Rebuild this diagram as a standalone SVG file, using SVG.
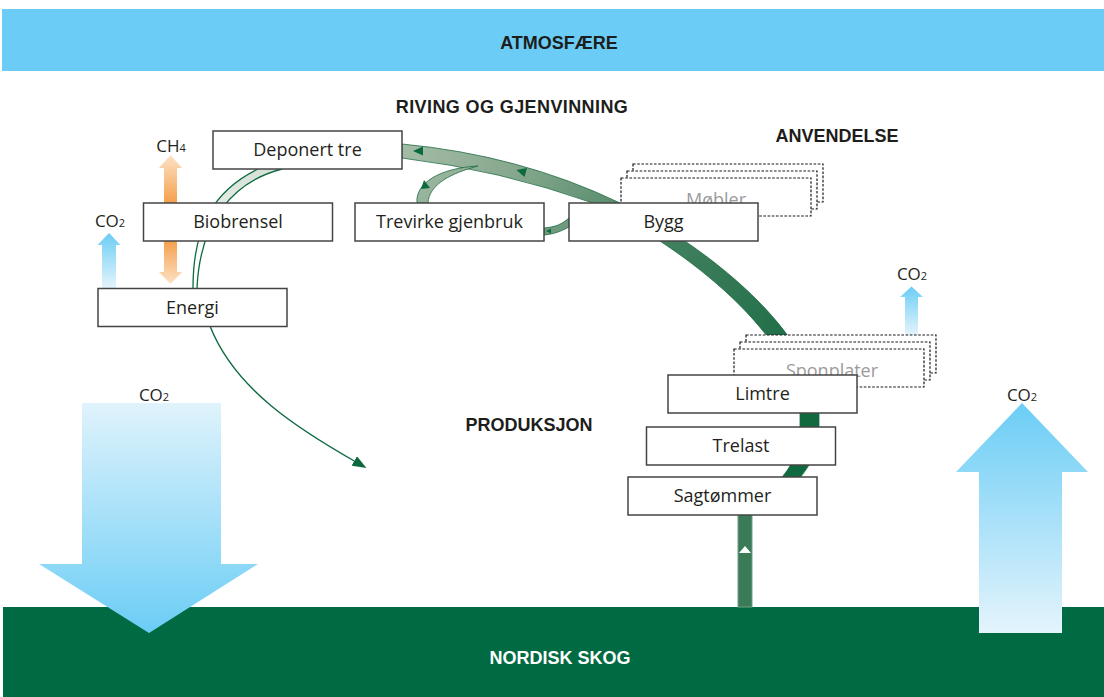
<svg xmlns="http://www.w3.org/2000/svg" width="1104" height="697" viewBox="0 0 1104 697">
  <style>
    .box { fill: #ffffff; stroke: #444444; stroke-width: 1.5; }
    .stack { fill: #ffffff; stroke: #1a1a1a; stroke-width: 1.2; stroke-dasharray: 2.6 1.6; }
    .lbl { font-family: "Open Sans", "Noto Sans", sans-serif; font-size: 18px; fill: #231F20; text-anchor: middle; }
    .ghost { font-family: "Open Sans", "Noto Sans", sans-serif; font-size: 18px; fill: #9B9B9B; text-anchor: middle; }
    .head { font-family: "Liberation Sans", Arial, sans-serif; font-size: 18px; font-weight: bold; fill: #1D1D1B; text-anchor: middle; }
    .band-edge { fill: none; stroke: #0C6B40; stroke-width: 1.3; }
    .chem { font-family: "Open Sans", "Noto Sans", sans-serif; font-size: 17px; fill: #231F20; text-anchor: middle; }
    .sub { font-size: 11px; }
    .tri { fill: #0A6A3D; }
  </style>
  <defs>
    <linearGradient id="gBand" gradientUnits="userSpaceOnUse" x1="400" y1="150" x2="800" y2="400">
      <stop offset="0" stop-color="#A5BCA6"/>
      <stop offset="0.24" stop-color="#84A78C"/>
      <stop offset="0.42" stop-color="#5F9172"/>
      <stop offset="0.61" stop-color="#3F7F5D"/>
      <stop offset="0.9" stop-color="#226F4A"/>
      <stop offset="1" stop-color="#10693F"/>
    </linearGradient>
    <linearGradient id="gThin" gradientUnits="userSpaceOnUse" x1="0" y1="169" x2="0" y2="260">
      <stop offset="0" stop-color="#D5E0D6"/>
      <stop offset="1" stop-color="#FFFFFF"/>
    </linearGradient>
    <linearGradient id="gBlueUp" x1="0" y1="0" x2="0" y2="1">
      <stop offset="0" stop-color="#6BCDF5"/>
      <stop offset="1" stop-color="#E4F4FC"/>
    </linearGradient>
    <linearGradient id="gBlueDown" x1="0" y1="0" x2="0" y2="1">
      <stop offset="0" stop-color="#E0F3FC"/>
      <stop offset="1" stop-color="#6BCDF5"/>
    </linearGradient>
    <linearGradient id="gOrangeUp" x1="0" y1="0" x2="0" y2="1">
      <stop offset="0" stop-color="#FCE2C6"/>
      <stop offset="1" stop-color="#F5A04C"/>
    </linearGradient>
    <linearGradient id="gOrangeDown" x1="0" y1="0" x2="0" y2="1">
      <stop offset="0" stop-color="#F5A04C"/>
      <stop offset="1" stop-color="#FCE2C6"/>
    </linearGradient>
    <marker id="arrowGreen" viewBox="0 0 14 11" refX="2" refY="5.5" markerWidth="14" markerHeight="11" markerUnits="userSpaceOnUse" orient="auto">
      <path d="M0,0 L14,5.5 L0,11 Z" fill="#0A6A3D"/>
    </marker>
  </defs>

  <!-- Atmosphere band -->
  <g id="atmosfaere">
    <rect x="2" y="9" width="1102" height="62" fill="#6BCDF5"/>
    <text class="head" x="559" y="49">ATMOSFÆRE</text>
  </g>

  <!-- Forest band -->
  <g id="nordisk-skog">
    <rect x="3" y="607" width="1101" height="90" fill="#006A42"/>
    <text class="head" x="560" y="664" style="fill:#ffffff">NORDISK SKOG</text>
  </g>

  <!-- Big CO2 arrows -->
  <g id="co2-opptak">
    <polygon points="82,403 221,403 221,564 258,564 149,633 39,564 82,564" fill="url(#gBlueDown)"/>
    <text class="chem" x="154" y="401">CO<tspan class="sub">2</tspan></text>
  </g>
  <g id="co2-utslipp-skog">
    <polygon points="1022,403 1088,472 1062,472 1062,633 979,633 979,472 956,472" fill="url(#gBlueUp)"/>
    <text class="chem" x="1022" y="401">CO<tspan class="sub">2</tspan></text>
  </g>

  <!-- Section labels -->
  <g id="labels">
    <text class="head" x="512" y="113" letter-spacing="0.4">RIVING OG GJENVINNING</text>
    <text class="head" x="837" y="142">ANVENDELSE</text>
    <text class="head" x="529" y="431">PRODUKSJON</text>
  </g>

  <!-- Connectors -->
  <g id="connectors">
    <!-- main life-cycle band -->
    <path d="M 402,144 Q 520,155 620,203 C 690,237 815,325 819,413 L 819,430 C 819,448 815,458 800,478 L 790,500 L 775,500 L 783,476 C 797,458 800,445 800,430 L 800,413 C 796,330 672,240 593,203 Q 500,170 402,158 Z" fill="url(#gBand)" stroke="#1E6B45" stroke-width="0.8"/>
    <!-- branch towards Trevirke gjenbruk -->
    <path d="M 417,203 C 415,183 440,168 478,166 C 452,173 429,184 428,203 Z" fill="url(#gBand)" stroke="#1E6B45" stroke-width="0.8"/>
    <!-- Bygg to Trevirke gjenbruk -->
    <path d="M 569,218 C 562,224 556,227 544,228 L 544,235 C 556,234 563,230 569,227 Z" fill="#6E9A7D" stroke="#1E6B45" stroke-width="0.8"/>
    <!-- flow triangles -->
    <polygon class="tri" points="413,151 423,146.5 423,155.5"/>
    <polygon class="tri" points="516.5,170 527,168 524.5,177"/>
    <polygon class="tri" points="424,180 421,189 430,188"/>
    <polygon class="tri" points="546,231 551,228.8 551,233.4"/>
    <!-- stem from forest to Sagtømmer -->
    <rect x="738" y="505" width="14" height="102" fill="#3B7B58" stroke="#6F9F83" stroke-width="1"/>
    <polygon points="745,546 739,553 751,553" fill="#ffffff"/>
    <!-- thin band Deponert tre -> Energi -->
    <path d="M 258,169 C 215,190 193,225 193,288 L 197,288 C 200,222 232,182 282,169 Z" fill="url(#gThin)"/>
    <path class="band-edge" d="M 258,169 C 215,190 193,225 193,288"/>
    <path class="band-edge" d="M 282,169 C 232,182 200,222 197,288"/>
    <!-- Energi -> out -->
    <path d="M 210,326 C 235,390 300,430 356,462" fill="none" stroke="#0C6B40" stroke-width="1.4" marker-end="url(#arrowGreen)"/>
  </g>

  <!-- Small gas arrows -->
  <g id="ch4-pil">
    <polygon points="164,203 164,168 159,168 170.5,155 182,168 177,168 177,203" fill="url(#gOrangeUp)"/>
    <polygon points="164,241 164,272 159,272 170.5,284 182,272 177,272 177,241" fill="url(#gOrangeDown)"/>
    <text class="chem" x="171" y="152">CH<tspan class="sub">4</tspan></text>
  </g>
  <g id="co2-energi">
    <polygon points="102,288 102,245 97.5,245 109,233 120.5,245 116,245 116,288" fill="url(#gBlueUp)"/>
    <text class="chem" x="110" y="227">CO<tspan class="sub">2</tspan></text>
  </g>
  <g id="co2-sponplater">
    <polygon points="905,335 905,297 900,297 911.5,286.5 923,297 918,297 918,335" fill="url(#gBlueUp)"/>
    <text class="chem" x="912" y="280">CO<tspan class="sub">2</tspan></text>
  </g>

  <!-- Stacked (dashed) nodes -->
  <g id="mobler">
    <rect class="stack" x="633" y="164" width="190" height="38"/>
    <rect class="stack" x="627" y="171" width="190" height="38"/>
    <rect class="stack" x="621" y="178" width="190" height="38"/>
    <text class="ghost" x="716" y="206">Møbler</text>
  </g>
  <g id="sponplater">
    <rect class="stack" x="746" y="335" width="190" height="38"/>
    <rect class="stack" x="740" y="342" width="190" height="38"/>
    <rect class="stack" x="734" y="349" width="190" height="38"/>
    <text class="ghost" x="832" y="377">Sponplater</text>
  </g>

  <!-- Nodes -->
  <g id="deponert-tre">
    <rect class="box" x="213" y="131" width="189" height="38"/>
    <text class="lbl" x="307.5" y="156">Deponert tre</text>
  </g>
  <g id="biobrensel">
    <rect class="box" x="143.5" y="203" width="189" height="38"/>
    <text class="lbl" x="238" y="228">Biobrensel</text>
  </g>
  <g id="energi">
    <rect class="box" x="98" y="288.5" width="189" height="38"/>
    <text class="lbl" x="192.5" y="313.5">Energi</text>
  </g>
  <g id="trevirke-gjenbruk">
    <rect class="box" x="355" y="203" width="189" height="38"/>
    <text class="lbl" x="449.5" y="228">Trevirke gjenbruk</text>
  </g>
  <g id="bygg">
    <rect class="box" x="569" y="203" width="189" height="38"/>
    <text class="lbl" x="663.5" y="228">Bygg</text>
  </g>
  <g id="limtre">
    <rect class="box" x="668" y="375" width="189" height="38"/>
    <text class="lbl" x="762.5" y="400">Limtre</text>
  </g>
  <g id="trelast">
    <rect class="box" x="646.5" y="427" width="189" height="38"/>
    <text class="lbl" x="741" y="452">Trelast</text>
  </g>
  <g id="sagtommer">
    <rect class="box" x="628" y="477" width="189" height="38"/>
    <text class="lbl" x="722.5" y="502">Sagtømmer</text>
  </g>
</svg>
